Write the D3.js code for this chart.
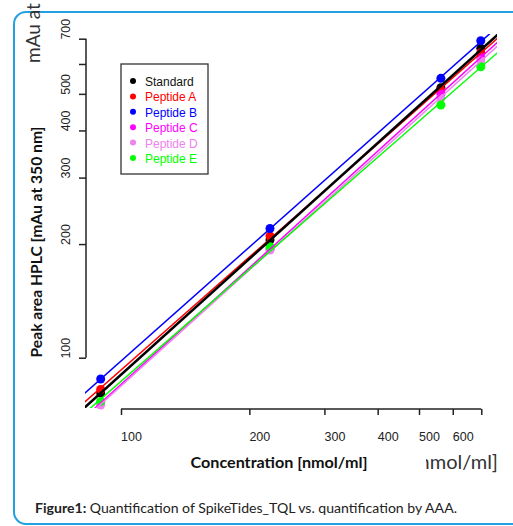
<!DOCTYPE html>
<html>
<head>
<meta charset="utf-8">
<script src="https://cdn.jsdelivr.net/npm/d3@7"></script>
<style>
body{margin:0;background:#fff;}
svg{display:block;}
</style>
</head>
<body>
<div class="chart"></div>
<script>
// concentrations (AAA) and peak areas
var concentrations = [89.6, 223.6, 562.7, 698];
var seriesNames = ["Standard","Peptide A","Peptide B","Peptide C","Peptide D","Peptide E"];
var seriesColors = ["#000000","#ff0000","#0000ff","#ff00ff","#ee82ee","#00ff00"];
var standardArea = [80.6, 205, 519, 660];
var peptideA = [82.4, 210.1, 512, 642.7];
var peptideB = [87.8, 219.9, 549.7, 691.5];
var peptideC = [75.9, 194, 499.4, 624.7];
var peptideD = [74.9, 192.9, 486.6, 612];
var peptideE = [76.6, 196.8, 467, 590];
var xTicks = [100,200,300,400,500,600,700];
var xTickLabels = ["100","200","300","400","500","600",""];
var yTicks = [100,200,300,400,500,600,700];
var yTickLabels = ["100","200","300","400","500","","700"];

var allSeries = [standardArea, peptideA, peptideB, peptideC, peptideD, peptideE];

var width = 513, height = 526;
var svg = d3.select(".chart").append("svg").attr("width",width).attr("height",height)

// frame
svg.append("rect").attr("x",14).attr("y",12).attr("width",520).attr("height",512)
	.attr("rx",12).attr("fill","none").attr("stroke","#22a0e0").attr("stroke-width",2)

// leftover text from neighbouring figure
svg.append("text").attr("transform","translate(40,63) rotate(-90)")
	.attr("font-family","Lato, 'Open Sans', sans-serif").attr("font-size",19).attr("fill","#333")
	.text("mAu at")

var plot = {left:85, right:497, top:34, bottom:408}
var x = d3.scaleLog().domain([100,700]).range([121,481.3])
var y = d3.scaleLog().domain([100,700]).range([357.7,38.7])

svg.append("clipPath").attr("id","plotclip").append("rect")
	.attr("x",plot.left).attr("y",plot.top).attr("width",plot.right-plot.left).attr("height",plot.bottom-plot.top)

// x axis
var xAxisG = svg.append("g").attr("transform","translate(0,409)")
	.call(d3.axisBottom(x).tickValues(xTicks).tickSize(6).tickSizeOuter(0).tickFormat(function(d,i){return xTickLabels[i]}))
xAxisG.select(".domain").attr("stroke","#222").attr("stroke-width",1.5).attr("d","M"+x(100)+",0H"+x(700))
xAxisG.selectAll(".tick line").attr("stroke","#222").attr("stroke-width",1.5)
xAxisG.selectAll(".tick text").attr("font-family","'Liberation Sans', Arial, sans-serif").attr("font-size",12.5)
	.attr("fill","#222").attr("dx",10).attr("y",23)

// y axis
var yAxisG = svg.append("g").attr("transform","translate(86,0)")
	.call(d3.axisLeft(y).tickValues(yTicks).tickSize(7).tickSizeOuter(0).tickFormat(function(d,i){return yTickLabels[i]}))
yAxisG.select(".domain").attr("stroke","#222").attr("stroke-width",1.5).attr("d","M0,"+y(100)+"V"+y(700))
yAxisG.selectAll(".tick line").attr("stroke","#222").attr("stroke-width",1.5)
yAxisG.selectAll(".tick text").attr("font-family","'Liberation Sans', Arial, sans-serif").attr("font-size",12.5)
	.attr("fill","#222").attr("text-anchor","middle").attr("x",0).attr("dy",0)
	.attr("transform","translate(-16,-10) rotate(-90)")

// axis titles
svg.append("text").attr("transform","translate(42,242) rotate(-90)").attr("text-anchor","middle")
	.attr("font-family","Lato, 'Open Sans', sans-serif").attr("font-weight","bold").attr("font-size",15)
	.attr("textLength",231).attr("lengthAdjust","spacingAndGlyphs")
	.attr("fill","#111").text("Peak area HPLC [mAu at 350 nm]")
svg.append("text").attr("x",279).attr("y",468).attr("text-anchor","middle")
	.attr("font-family","Lato, 'Open Sans', sans-serif").attr("font-weight","bold").attr("font-size",15)
	.attr("textLength",177).attr("lengthAdjust","spacingAndGlyphs")
	.attr("fill","#111").text("Concentration [nmol/ml]")

svg.append("clipPath").attr("id","stubclip").append("rect").attr("x",426).attr("y",440).attr("width",90).attr("height",40)
svg.append("text").attr("x",498).attr("y",469).attr("text-anchor","end").attr("clip-path","url(#stubclip)")
	.attr("font-family","Lato, 'Open Sans', sans-serif").attr("font-size",20).attr("fill","#333")
	.text("nmol/ml]")

// points
var pointsG = svg.append("g")
allSeries.forEach(function(vals,s){
	pointsG.selectAll("circle.s"+s).data(vals).enter().append("circle")
	.attr("class","s"+s)
	.attr("r",4.5)
	.attr("fill",seriesColors[s])
	.attr("cx",function(d,i){return x(concentrations[i])})
	.attr("cy",function(d){return y(d)})
})

// log-log regression lines
function fit(vals){
	var lx = concentrations.map(function(c){return Math.log10(c)})
	var ly = vals.map(function(v){return Math.log10(v)})
	var mx = d3.mean(lx), my = d3.mean(ly)
	var sxy = d3.sum(lx,function(d,i){return (d-mx)*(ly[i]-my)})
	var sxx = d3.sum(lx,function(d){return (d-mx)*(d-mx)})
	var b = sxy/sxx
	return {a: my-b*mx, b: b}
}
var linesG = svg.append("g").attr("clip-path","url(#plotclip)")
var order = [1,2,3,4,5,0]
order.forEach(function(s){
	var f = fit(allSeries[s])
	var x0 = x.invert(plot.left-5), x1 = x.invert(plot.right+5)
	var y0 = Math.pow(10, f.a + f.b*Math.log10(x0))
	var y1 = Math.pow(10, f.a + f.b*Math.log10(x1))
	linesG.append("line")
	.attr("x1",x(x0)).attr("y1",y(y0)).attr("x2",x(x1)).attr("y2",y(y1))
	.attr("stroke",seriesColors[s]).attr("stroke-width",s==0?2.5:1.5)
})

// legend
var legend = svg.append("g")
legend.append("rect").attr("x",121).attr("y",64).attr("width",87).attr("height",110)
	.attr("fill","#fff").attr("stroke","#333").attr("stroke-width",1.3)
seriesNames.forEach(function(name,i){
	var ly = 82 + i*15.4
	legend.append("circle").attr("cx",133).attr("cy",ly-1).attr("r",3).attr("fill",seriesColors[i])
	legend.append("text").attr("x",145).attr("y",ly+4)
	.attr("font-family","'Liberation Sans', Arial, sans-serif").attr("font-size",12)
	.attr("fill",i==0?"#111":seriesColors[i]).text(name)
})

// caption
var cap = svg.append("text").attr("x",35).attr("y",513)
	.attr("font-family","Lato, 'Open Sans', sans-serif").attr("font-size",13.5).attr("fill","#222")
	.attr("textLength",422).attr("lengthAdjust","spacingAndGlyphs")
cap.append("tspan").attr("font-weight","bold").text("Figure1:")
cap.append("tspan").text(" Quantification of SpikeTides_TQL vs. quantification by AAA.")
</script>
</body>
</html>
